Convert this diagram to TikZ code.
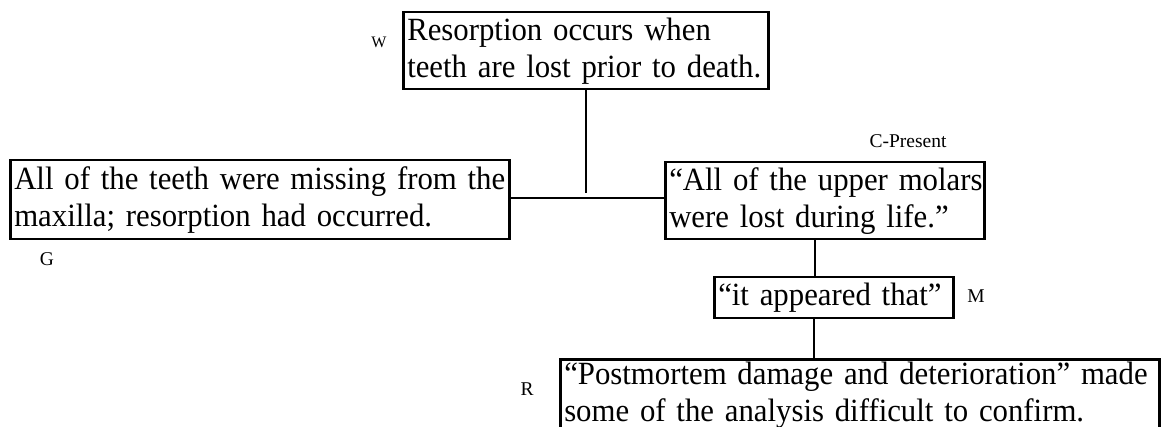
\documentclass[tikz,border=0pt]{standalone}
\usepackage{fontspec}
\setmainfont{Liberation Serif}
\newfontfamily\boxfont{Liberation Serif}[FakeStretch=0.95]
\begin{document}
\begin{tikzpicture}[x=1pt,y=-1pt,
  claim/.style={draw, line width=2.5pt, rectangle, inner xsep=4pt, inner ysep=0pt,
    align=left, anchor=north west,
    font=\boxfont\fontsize{32.4}{37}\selectfont},
  link/.style={line width=2.5pt},
  tag/.style={inner sep=0pt, anchor=base, font=\fontsize{19.5}{22}\selectfont}]
\useasboundingbox (0,0) rectangle (1161,427);
\clip (0,0) rectangle (1161,427);

% warrant
\node[claim, minimum width=365pt, minimum height=77pt, text width=357pt] (W) at (402,11)
  {\mbox{Resorption occurs when}\\\mbox{teeth are lost prior to death.}};
% grounds
\node[claim, minimum width=499pt, minimum height=79pt, text width=491pt] (G) at (9,159)
  {\mbox{All of the teeth were missing from the}\\\mbox{maxilla; resorption had occurred.}};
% claim
\node[claim, minimum width=319pt, minimum height=77pt, text width=311pt] (C) at (664,161)
  {\mbox{“All of the upper molars}\\\mbox{were lost during life.”}};
% modality
\node[claim, minimum width=239pt, minimum height=41pt, text width=231pt] (M) at (713,276)
  {\mbox{“it appeared that”}};
% rebuttal
\node[claim, minimum width=599pt, text width=591pt, inner ysep=3pt] (R) at (559,358)
  {\mbox{“Postmortem damage and deterioration” made}\\\mbox{some of the analysis difficult to confirm.}\rule[-40pt]{0pt}{0pt}};

% labels
\node[tag, font=\fontsize{16}{18}\selectfont] (lW) at (379,48) {W};
\node[tag] (lG) at (47,266) {G};
\node[tag] (lC) at (908,148) {C-Present};
\node[tag] (lM) at (976,303) {M};
\node[tag] (lR) at (527,395) {R};

% connectors
\coordinate (J) at (586,193);
\draw[link] (W.south -| J) -- (J);
\draw[link] (G.east |- 0,198) -- (C.west |- 0,198);
\draw[link] (C.south -| 815,0) -- (M.north -| 815,0);
\draw[link] (M.south -| 814,0) -- (R.north -| 814,0);
\end{tikzpicture}
\end{document}
